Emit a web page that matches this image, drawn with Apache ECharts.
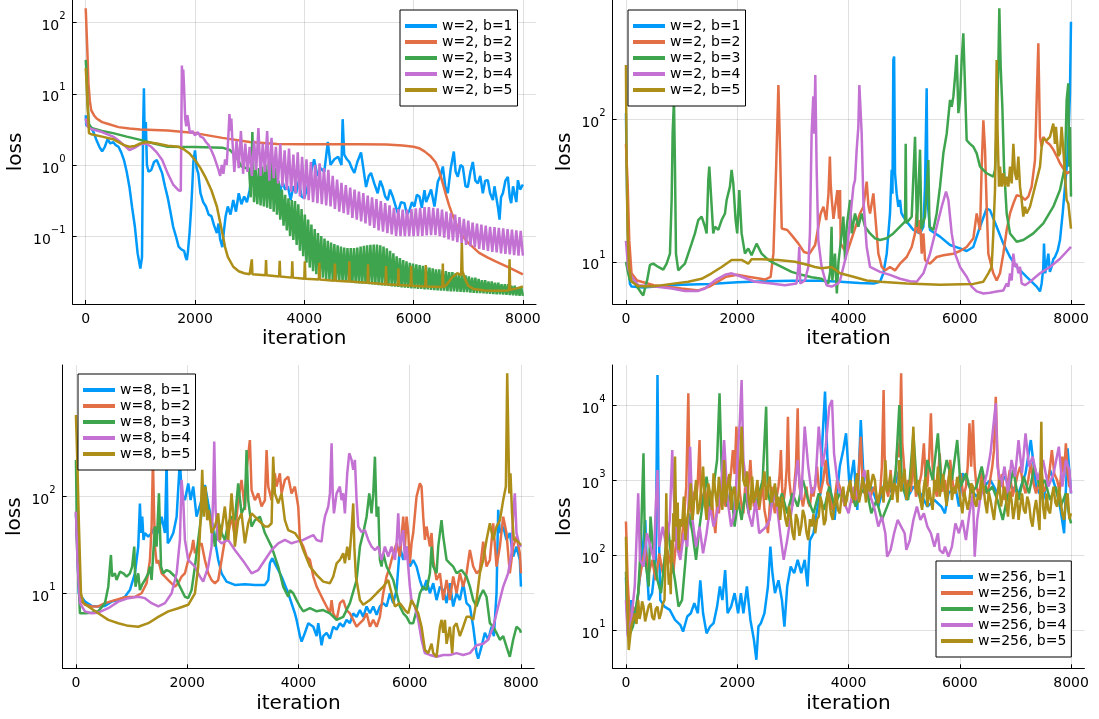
<!DOCTYPE html>
<html><head><meta charset="utf-8">
<script src="https://cdn.jsdelivr.net/npm/echarts@6/dist/echarts.min.js"></script>
<style>html,body{margin:0;padding:0;background:#fff}#c{width:1099px;height:719px}</style>
</head><body><div id="c"></div>
<script>
// ---------- tick labels ----------
const xTicks = [0, 2000, 4000, 6000, 8000];
const tlYTicks = [0.1, 1, 10, 100];
const trYTicks = [10, 100];
const blYTicks = [10, 100];
const brYTicks = [10, 100, 1000, 10000];

// ---------- legend names ----------
const namesW2 = ['w=2, b=1', 'w=2, b=2', 'w=2, b=3', 'w=2, b=4', 'w=2, b=5'];
const namesW8 = ['w=8, b=1', 'w=8, b=2', 'w=8, b=3', 'w=8, b=4', 'w=8, b=5'];
const namesW256 = ['w=256, b=1', 'w=256, b=2', 'w=256, b=3', 'w=256, b=4', 'w=256, b=5'];

// ---------- top-left panel (w=2) [iteration, loss] ----------
const tl_b1 = [[0,5.0],[10,3.6],[60,3.5],[100,3.4],[150,2.8],[200,2.2],[250,1.8],[300,1.55],[350,1.8],[400,2.3],[450,2.0],[500,2.1],[550,1.9],[600,1.8],[650,1.5],[700,1.17],[750,0.8],[800,0.49],[850,0.25],[900,0.135],[950,0.057],[1000,0.035],[1030,0.05],[1050,3.0],[1065,12],[1080,2.2],[1100,4.0],[1120,1.0],[1150,0.8],[1200,0.85],[1250,1.1],[1300,1.17],[1350,0.95],[1400,0.76],[1450,0.5],[1500,0.35],[1550,0.22],[1600,0.135],[1650,0.1],[1700,0.071],[1750,0.065],[1800,0.062],[1830,0.05],[1850,0.046],[1870,0.06],[1900,0.11],[1930,0.25],[1950,0.49],[1970,1.1],[2000,1.6],[2030,0.9],[2060,0.76],[2100,0.4],[2150,0.3],[2200,0.26],[2250,0.2],[2300,0.19],[2350,0.14],[2400,0.11],[2430,0.15],[2460,0.09],[2500,0.07],[2530,0.12],[2560,0.19],[2600,0.26],[2650,0.2],[2700,0.32],[2750,0.22],[2800,0.4],[2850,0.28],[2900,0.36],[2950,0.3],[3000,0.44],[3050,0.9],[3080,0.5],[3100,0.4],[3150,0.55],[3200,0.49],[3250,0.7],[3300,0.6],[3350,0.5],[3400,0.55],[3450,0.45],[3500,0.52],[3550,0.4],[3600,0.58],[3650,0.45],[3700,0.5],[3750,0.32],[3800,0.5],[3850,0.4],[3900,0.6],[3950,0.36],[4000,0.34],[4060,0.5],[4120,0.77],[4180,1.2],[4240,0.7],[4300,0.9],[4366,0.8],[4430,2.1],[4480,1.0],[4550,1.2],[4620,1.3],[4680,1.0],[4702,4.4],[4730,1.4],[4780,1.2],[4824,1.1],[4870,0.9],[4916,0.77],[4970,1.1],[5038,1.5],[5080,0.9],[5130,0.49],[5180,0.7],[5221,0.77],[5280,0.55],[5343,0.4],[5390,0.6],[5435,0.49],[5480,0.36],[5527,0.32],[5570,0.45],[5618,0.36],[5660,0.28],[5710,0.21],[5770,0.3],[5832,0.29],[5880,0.2],[5924,0.23],[5970,0.3],[6015,0.26],[6060,0.38],[6107,0.36],[6150,0.25],[6199,0.44],[6230,0.3],[6260,0.32],[6320,0.45],[6382,0.26],[6443,0.58],[6490,0.7],[6535,0.95],[6580,0.5],[6626,0.4],[6680,0.9],[6736,1.54],[6770,0.8],[6809,0.68],[6860,1.0],[6901,0.94],[6950,0.5],[6993,0.49],[7040,0.8],[7084,1.1],[7130,0.6],[7176,0.55],[7220,0.7],[7267,0.4],[7310,0.6],[7359,0.61],[7400,0.4],[7451,0.32],[7480,0.5],[7512,0.49],[7545,0.25],[7573,0.17],[7600,0.35],[7634,0.4],[7680,0.6],[7725,0.68],[7760,0.35],[7786,0.29],[7820,0.5],[7847,0.4],[7880,0.3],[7909,0.61],[7950,0.45],[8000,0.53]];
const tl_b2 = [[0,160],[30,40],[50,14],[75,8],[100,5.9],[150,5.0],[200,4.5],[300,4.0],[400,3.8],[600,3.4],[800,3.25],[1000,3.16],[1500,3.05],[2000,2.8],[2500,2.4],[3000,2.1],[3500,1.97],[4000,1.96],[4500,1.96],[5000,1.96],[5500,1.94],[5800,1.88],[6000,1.8],[6100,1.72],[6200,1.55],[6300,1.35],[6400,1.1],[6450,0.9],[6500,0.68],[6550,0.5],[6600,0.36],[6650,0.27],[6700,0.21],[6800,0.135],[6900,0.1],[7000,0.08],[7100,0.068],[7200,0.058],[7350,0.05],[7500,0.044],[7750,0.036],[8000,0.029]];
const tl_b3_head = [[0,30],[15,20],[30,8],[60,3.8],[100,3.3],[300,3.0],[500,2.8],[750,2.5],[1000,2.25],[1250,2.0],[1500,1.8],[2000,1.78],[2500,1.75],[2640,1.62],[2760,1.3],[2850,0.95],[2930,0.9]];
// oscillating band of b=3: upper and lower turning points, every 60 iterations from 2990
const tl_b3_hi = [0.9,2.9,0.85,0.9,0.95,1.0,1.1,1.25,0.9,0.6,0.45,0.38,0.34,0.32,0.31,0.28,0.24,0.2,0.17,0.145,0.125,0.11,0.1,0.092,0.086,0.081,0.077,0.074,0.071,0.069,0.068,0.068,0.068,0.069,0.071,0.073,0.074,0.075,0.076,0.076,0.074,0.071,0.067,0.062,0.057,0.052,0.049,0.046,0.044,0.042,0.041,0.04,0.039,0.038,0.037,0.036,0.035,0.034,0.034,0.033,0.032,0.031,0.031,0.03,0.029,0.028,0.028,0.027,0.026,0.026,0.025,0.024,0.024,0.023,0.023,0.022,0.022,0.021,0.021,0.021,0.02,0.02,0.019,0.019];
const tl_b3_lo = [0.35,0.3,0.28,0.27,0.26,0.25,0.24,0.22,0.2,0.17,0.14,0.12,0.1,0.088,0.075,0.062,0.052,0.042,0.036,0.032,0.029,0.027,0.026,0.025,0.0245,0.024,0.0237,0.0233,0.023,0.0227,0.0224,0.022,0.0218,0.0216,0.0214,0.0212,0.021,0.0208,0.0206,0.0204,0.0202,0.02,0.0198,0.0196,0.0194,0.0192,0.019,0.0188,0.0186,0.0184,0.0183,0.0181,0.018,0.0178,0.0177,0.0175,0.0174,0.0172,0.0171,0.017,0.0168,0.0167,0.0166,0.0165,0.0164,0.0163,0.0162,0.016,0.0159,0.0158,0.0157,0.0156,0.0155,0.0154,0.0153,0.0152,0.0151,0.015,0.0149,0.0148,0.0147,0.0146,0.0145,0.0144];
const tl_b4_head = [[0,4.5],[30,3.5],[100,3.2],[300,2.9],[500,2.5],[600,2.2],[700,1.9],[800,1.62],[900,1.75],[1000,1.95],[1100,2.0],[1200,1.8],[1300,1.5],[1400,1.17],[1500,0.76],[1600,0.53],[1700,0.44],[1740,0.43],[1760,25],[1775,10],[1785,22],[1800,12],[1820,4.5],[1840,3.5],[1860,5.0],[1880,4.0],[1900,3.0],[1920,2.8],[1950,3.0],[2000,2.6],[2050,2.9],[2100,2.5],[2150,2.4],[2200,2.1],[2250,1.9],[2300,1.6],[2350,1.3],[2400,1.0],[2430,0.85],[2460,0.7],[2490,1.0],[2520,0.75],[2550,1.2],[2580,1.0],[2610,2.5],[2630,5.2],[2650,3.0],[2665,4.5]];
// oscillating band of b=4: turning points every 80 iterations from 2680
const tl_b4_hi = [2.5,2.2,3.0,2.0,1.8,2.2,3.3,2.0,3.0,2.4,1.8,2.0,1.6,1.7,1.4,1.5,1.3,1.2,1.1,1.0,1.05,0.9,0.85,0.7,0.62,0.56,0.52,0.48,0.45,0.42,0.4,0.37,0.35,0.33,0.31,0.29,0.27,0.25,0.24,0.235,0.235,0.24,0.245,0.25,0.255,0.255,0.25,0.245,0.235,0.22,0.21,0.2,0.185,0.175,0.165,0.155,0.15,0.145,0.14,0.135,0.133,0.13,0.128,0.125,0.123,0.12,0.118];
const tl_b4_lo = [0.8,0.9,0.75,0.8,0.7,0.85,0.7,0.8,0.6,0.65,0.55,0.5,0.45,0.42,0.4,0.36,0.33,0.32,0.3,0.29,0.28,0.27,0.26,0.24,0.22,0.21,0.2,0.18,0.17,0.16,0.15,0.14,0.13,0.12,0.115,0.11,0.105,0.1,0.1,0.1,0.1,0.1,0.1,0.1,0.102,0.103,0.103,0.1,0.095,0.09,0.086,0.082,0.078,0.075,0.072,0.069,0.066,0.064,0.062,0.06,0.059,0.057,0.056,0.055,0.054,0.053,0.053];
const tl_b5 = [[0,23],[15,15],[30,8],[60,2.8],[100,2.7],[300,2.5],[500,2.3],[700,1.9],[800,1.8],[900,1.85],[1000,2.0],[1100,2.1],[1200,2.05],[1300,2.0],[1500,1.86],[1700,1.8],[1800,1.65],[1900,1.45],[2000,1.17],[2100,0.9],[2200,0.65],[2300,0.44],[2400,0.26],[2450,0.17],[2500,0.11],[2550,0.07],[2600,0.051],[2700,0.037],[2800,0.032],[2900,0.03],[3000,0.029],[3030,0.029],[3040,0.047],[3050,0.029],[3290,0.028],[3300,0.046],[3310,0.028],[3540,0.027],[3550,0.045],[3560,0.027],[3770,0.026],[3780,0.044],[3790,0.026],[4000,0.025],[4010,0.044],[4020,0.025],[4265,0.0245],[4275,0.042],[4285,0.0245],[4550,0.0235],[4560,0.041],[4570,0.0235],[4815,0.023],[4824,0.044],[4833,0.023],[5157,0.022],[5166,0.04],[5175,0.022],[5487,0.021],[5496,0.038],[5505,0.021],[5713,0.0205],[5722,0.035],[5731,0.0205],[5946,0.02],[5955,0.038],[5964,0.02],[6214,0.0195],[6223,0.039],[6232,0.0195],[6526,0.0192],[6535,0.041],[6544,0.0192],[6600,0.0205],[6700,0.026],[6800,0.03],[6870,0.028],[6883,0.08],[6895,0.032],[6950,0.024],[7000,0.02],[7100,0.018],[7300,0.0172],[7500,0.017],[7745,0.0172],[7756,0.047],[7767,0.0175],[7900,0.0185],[8000,0.0195]];

// ---------- top-right panel (w=2) ----------
const tr_b1 = [[0,110],[20,30],[50,9],[72,7.0],[100,6.7],[300,6.6],[600,6.75],[1000,6.9],[1500,7.0],[2000,7.2],[2500,7.3],[3000,7.35],[3500,7.35],[3850,7.25],[4200,7.1],[4450,7.05],[4567,7.25],[4627,8.3],[4687,11.4],[4746,21.8],[4776,44],[4790,30],[4806,259],[4820,274],[4836,41.7],[4866,30],[4896,24.3],[4926,27.1],[4950,22],[4986,20.7],[5046,19.1],[5166,16.7],[5286,15.8],[5346,17.6],[5375,33.6],[5405,164],[5420,27],[5465,16.7],[5645,15],[5825,13.1],[6004,12.4],[6124,11.9],[6244,12.7],[6364,17.6],[6483,23.6],[6543,23],[6663,17.6],[6783,13.4],[6903,10.8],[7023,9.2],[7202,7.85],[7382,6.7],[7442,6.2],[7472,7.05],[7500,9],[7514,13.4],[7535,8.3],[7560,9.5],[7592,11.4],[7620,8.5],[7650,9.2],[7680,10.4],[7711,10.8],[7760,12],[7801,14.2],[7850,22],[7891,33.6],[7930,50],[7951,71],[7980,150],[7999,481]];
const tr_b2 = [[0,67],[30,35],[60,14],[100,8.3],[200,7.4],[500,6.85],[1000,6.5],[1300,6.3],[1500,6.7],[1800,7.85],[2000,8.1],[2200,7.85],[2500,7.5],[2600,7.85],[2650,11.4],[2700,46.4],[2740,173],[2770,60],[2800,17.1],[2900,16.7],[3000,15],[3100,13.4],[3200,11.7],[3300,11.4],[3400,13.1],[3500,21.8],[3550,24.3],[3600,19.6],[3640,30],[3665,54.5],[3680,35],[3700,27.1],[3730,20],[3760,19.6],[3800,31.8],[3830,20],[3848,31.8],[3860,13.4],[3968,11.4],[4088,15.8],[4207,21.8],[4267,24.3],[4327,36.4],[4357,25],[4387,21.8],[4447,30.1],[4507,15.8],[4537,11.4],[4567,10.3],[4597,9.2],[4657,8.7],[4746,9.2],[4836,8.7],[4926,9.7],[5046,10.8],[5136,12.7],[5196,15.8],[5226,21.8],[5256,15.8],[5286,19.6],[5316,11.4],[5346,15.8],[5376,10.3],[5465,9.7],[5585,10.8],[5705,11.1],[5885,11.4],[6004,11.9],[6124,12.7],[6244,14.6],[6304,21.8],[6364,16.7],[6394,46.4],[6424,98],[6454,61],[6484,24.3],[6513,11.4],[6603,8.3],[6663,7.4],[6723,8.3],[6783,11.4],[6843,16.7],[6903,21.8],[6963,25.6],[7023,29.3],[7112,28.6],[7172,27.1],[7232,28.6],[7292,33.6],[7352,51.6],[7382,136],[7412,339],[7442,75],[7472,64],[7502,75],[7562,69],[7621,66],[7681,61],[7741,55],[7801,49],[7861,45],[7921,41.7],[7999,43]];
const tr_b3 = [[0,10],[40,8.3],[72,7.4],[162,7.05],[282,6.0],[311,5.8],[341,6.5],[380,7.4],[431,9.5],[491,9.7],[581,9.2],[671,8.8],[731,9.7],[791,11.4],[821,27.1],[839,79],[863,136],[881,46.4],[899,11.4],[940,8.7],[1000,9.2],[1060,9.7],[1120,11.4],[1180,13.4],[1240,15.8],[1300,19.6],[1360,20.7],[1420,17.6],[1450,15.8],[1480,37.4],[1498,46.4],[1527,30.1],[1569,15.8],[1600,17.6],[1660,16.7],[1720,19.6],[1780,21.8],[1810,27.1],[1869,33.6],[1899,44],[1929,35.4],[1971,19.6],[2000,15.8],[2037,31.8],[2079,15.8],[2139,11.4],[2198,12.4],[2258,11.1],[2348,13.4],[2438,11.4],[2558,10.3],[2678,9.7],[2798,9.2],[2977,8.5],[3157,8.1],[3336,7.8],[3516,7.6],[3636,7.05],[3670,8.5],[3696,17.6],[3710,7.4],[3756,11.4],[3790,6.0],[3820,10],[3848,10.3],[3878,15.8],[3908,20.7],[3938,10.3],[3968,17.6],[4028,27.1],[4058,15.8],[4117,21.8],[4177,17.6],[4237,21.8],[4297,17.6],[4387,15.8],[4477,14.6],[4567,14.2],[4687,14.6],[4806,15.8],[4926,17.6],[5016,19.1],[5028,67],[5040,18.6],[5136,20.7],[5196,75],[5230,17.6],[5286,61],[5310,17],[5375,20.7],[5435,51.6],[5455,17.6],[5525,16.7],[5585,21.8],[5645,33.6],[5705,57.5],[5765,79],[5825,136],[5855,122],[5885,144],[5915,198],[5945,281],[5975,110],[6004,136],[6034,259],[6064,398],[6094,169],[6124,71],[6184,67],[6244,64],[6304,57.5],[6364,46.4],[6483,41.7],[6603,39.5],[6633,44],[6663,88],[6693,233],[6711,597],[6735,233],[6765,122],[6795,46.4],[6843,21.8],[6903,15.8],[7023,13.8],[7142,14.2],[7322,15.8],[7502,18.6],[7681,24.3],[7801,31.8],[7891,46.4],[7921,136],[7951,178],[7966,46.4],[7981,88],[7999,28.6]];
const tr_b4 = [[0,14],[40,9],[102,7.85],[222,6.85],[521,6.7],[821,6.5],[1060,6.25],[1300,6.25],[1420,6.5],[1600,7.4],[1780,8.1],[1899,8.3],[2079,7.85],[2318,7.25],[2618,7.05],[2857,6.85],[3067,7.05],[3097,9.2],[3115,12.7],[3133,7.05],[3217,7.4],[3277,9.2],[3307,15.8],[3337,79],[3367,144],[3385,79],[3403,203],[3427,46.4],[3457,14.2],[3517,9.2],[3606,6.85],[3696,6.7],[3816,7.05],[3848,7.4],[3968,11.4],[4028,19.6],[4088,33.6],[4117,37.4],[4147,61],[4177,88],[4195,173],[4219,169],[4237,79],[4267,27.1],[4327,12.7],[4387,9.2],[4567,8.5],[4746,8.1],[4926,7.6],[5106,7.3],[5226,7.25],[5346,8.3],[5465,11.4],[5585,17.6],[5675,24.3],[5753,31],[5795,27.1],[5855,15.8],[5915,11.4],[6004,9.2],[6124,7.85],[6214,6.7],[6304,6.2],[6424,6.0],[6543,6.07],[6663,6.2],[6783,6.3],[6843,7.05],[6873,6.7],[6903,8.3],[6933,7.4],[6963,11.4],[6993,9.2],[7023,9.7],[7053,8.3],[7083,9.2],[7112,7.05],[7172,6.85],[7262,7.25],[7442,8.3],[7621,9.2],[7801,10.5],[7999,12.7]];
const tr_b5 = [[0,239],[12,46],[30,15.8],[54,9.2],[102,7.25],[222,6.75],[521,6.75],[821,7.0],[1120,7.25],[1360,7.6],[1540,8.3],[1720,9.2],[1899,10.3],[2079,10.3],[2198,9.7],[2258,10.4],[2438,10.4],[2737,10.3],[3037,10.0],[3277,9.5],[3397,9.2],[3516,9.0],[3696,9.2],[3848,8.3],[4088,7.85],[4327,7.4],[4567,7.25],[5046,7.05],[5645,6.9],[6244,7.0],[6424,7.25],[6513,8.3],[6573,9.2],[6603,15.8],[6633,31.8],[6663,259],[6680,79],[6705,33.6],[6723,46.4],[6753,33.6],[6783,41.7],[6813,33.6],[6843,39.5],[6873,33.6],[6903,46.4],[6933,35.4],[6963,67],[6993,41.7],[7023,37.4],[7053,54.5],[7083,33.6],[7112,27.1],[7142,20.7],[7172,24.3],[7202,21.8],[7262,24.3],[7322,30.1],[7382,37.4],[7442,46.4],[7472,64],[7502,73],[7562,71],[7621,75],[7681,93],[7710,67],[7729,88],[7770,55],[7801,57.5],[7830,88],[7861,61],[7921,27.1],[7951,25.6],[7999,17.1]];

// ---------- bottom-left panel (w=8) ----------
const bl_b1 = [[0,67],[30,25],[50,10],[162,8.2],[282,7.4],[401,7.3],[521,7.4],[641,8.2],[761,8.5],[881,9.2],[970,10.8],[1060,16.1],[1120,30.4],[1150,85],[1170,42],[1192,62],[1215,35.6],[1240,42],[1300,38.6],[1360,42],[1420,49],[1480,42],[1540,62],[1600,42],[1630,240],[1650,32.9],[1690,35.6],[1750,42],[1810,62],[1869,240],[1899,108],[1959,92],[2019,137],[2061,92],[2109,127],[2168,62],[2258,92],[2318,132],[2378,85],[2438,57],[2498,35.6],[2558,22.1],[2618,16.1],[2707,13.2],[2857,12.2],[3037,12.4],[3217,12.2],[3397,12.2],[3457,13.7],[3486,20.4],[3529,23],[3576,20.4],[3696,14.9],[3816,10],[3936,6.2],[3967,5.3],[4027,3.6],[4057,3.16],[4117,3.9],[4177,4.9],[4207,4.7],[4267,4.5],[4327,3.6],[4356,4.9],[4416,2.9],[4446,3.6],[4506,3.9],[4566,3.4],[4626,4.5],[4686,4.2],[4745,4.9],[4805,4.5],[4865,5.3],[4925,4.9],[4985,6.2],[5045,5.7],[5105,6.7],[5165,5.7],[5225,7.3],[5285,6.2],[5345,7.3],[5405,6.0],[5464,7.3],[5524,7.9],[5584,7.3],[5644,10],[5704,7.9],[5764,10.8],[5824,30.4],[5884,22.1],[5944,30.4],[6003,18.9],[6063,22.1],[6123,18.9],[6183,13.7],[6243,10.8],[6303,13.7],[6363,10],[6423,12.7],[6483,8.5],[6543,11.7],[6603,10.8],[6663,7.9],[6722,12.7],[6782,7.3],[6842,10],[6902,8.5],[6962,12.7],[7022,7.9],[7082,7.3],[7142,4.5],[7202,2.4],[7231,2.1],[7291,2.8],[7351,3.9],[7411,3.3],[7471,4.5],[7513,3.6],[7561,10],[7591,73],[7621,42],[7681,49],[7740,35.6],[7800,42],[7860,24],[7920,30.4],[7980,22.1],[8000,11.7]];
const bl_b2 = [[0,70],[30,25],[72,8.5],[162,7.6],[282,7.3],[401,7.3],[521,7.9],[701,8.5],[881,9.1],[1060,9.2],[1180,10],[1270,12.7],[1330,22.1],[1360,49],[1384,240],[1402,79],[1420,30.4],[1450,20.4],[1480,22.1],[1540,16.1],[1600,14.9],[1660,13.7],[1780,11.7],[1839,12.7],[1899,14.9],[1959,16.1],[2019,22.1],[2079,28],[2109,35.6],[2139,25.9],[2198,30.4],[2258,32.9],[2318,22.1],[2378,16.1],[2438,13.7],[2498,12.7],[2558,13.7],[2618,22.1],[2677,35.6],[2737,42],[2797,62],[2857,38.6],[2917,92],[2977,149],[3037,73],[3067,189],[3127,385],[3157,117],[3217,92],[3277,108],[3337,79],[3397,92],[3427,304],[3457,127],[3517,92],[3576,174],[3606,127],[3666,174],[3696,108],[3756,149],[3816,161],[3876,108],[3936,127],[3996,79],[4027,35.6],[4087,30.4],[4147,24],[4207,22.1],[4267,14.9],[4327,11.7],[4386,10],[4446,8.5],[4506,7.3],[4566,6.2],[4596,8.5],[4626,6.2],[4686,5.3],[4745,7.9],[4805,8.5],[4865,6.7],[4925,6.2],[4985,5.3],[5045,4.5],[5105,4.9],[5165,5.3],[5225,6.2],[5285,4.5],[5345,5.3],[5405,4.5],[5464,5.7],[5524,10],[5584,14.9],[5644,18.9],[5704,25.9],[5764,32.9],[5824,24],[5884,62],[5914,30.4],[5944,62],[5974,42],[6003,20.4],[6033,32.9],[6063,42],[6123,100],[6183,137],[6213,127],[6243,62],[6273,35.6],[6303,49],[6363,30.4],[6393,42],[6423,22.1],[6483,13.7],[6543,16.1],[6603,8.5],[6663,13.7],[6722,8.5],[6782,14.9],[6842,10],[6902,16.1],[6962,11.7],[7022,16.1],[7082,28],[7142,18.9],[7202,16.1],[7261,17.4],[7321,34.2],[7381,18.9],[7441,22.1],[7501,53],[7561,18.9],[7621,30.4],[7681,62],[7740,42],[7800,16.1],[7860,30.4],[7920,38.6],[7980,25.9],[8000,16.1]];
const bl_b3 = [[0,240],[20,30],[72,6.2],[162,6.2],[282,6.3],[401,6.5],[521,7.9],[581,11.7],[611,18.9],[629,24.9],[650,14.9],[701,16.1],[730,13.7],[791,16.7],[851,16.1],[911,14.9],[970,16.1],[1010,18.9],[1048,30.4],[1070,11.7],[1120,16.1],[1150,10.8],[1192,12.4],[1240,13.7],[1300,16.1],[1330,18.9],[1360,13.7],[1420,49],[1450,30.4],[1492,108],[1530,18.9],[1569,16.1],[1630,17.4],[1690,16.7],[1780,14.9],[1869,11.7],[1959,9.2],[2019,8.9],[2079,10.8],[2139,18.9],[2198,35.6],[2258,67],[2318,127],[2378,67],[2438,57],[2498,30.4],[2558,57],[2618,42],[2677,35.6],[2737,53],[2797,62],[2857,57],[2917,137],[2977,67],[3037,79],[3067,304],[3097,92],[3157,49],[3217,57],[3307,62],[3397,42],[3517,30.4],[3636,18.9],[3726,11.7],[3816,9.2],[3847,10.8],[3906,10],[3967,8.5],[4027,7.3],[4087,6.5],[4207,7.0],[4327,6.5],[4446,6.7],[4566,6.2],[4686,5.3],[4805,5.7],[4925,7.9],[5045,13.7],[5105,30.4],[5165,42],[5225,62],[5273,108],[5314,67],[5345,108],[5375,259],[5405,62],[5435,79],[5464,22.1],[5494,18.9],[5524,25.9],[5584,18.9],[5644,16.1],[5704,13.7],[5764,10],[5824,7.3],[5884,6.2],[5944,5.7],[6003,4.9],[6063,4.9],[6123,6.7],[6183,10],[6243,11.7],[6303,10.8],[6363,16.1],[6393,30.4],[6423,18.9],[6483,16.1],[6513,30.4],[6572,57],[6603,38.6],[6663,22.1],[6722,20.4],[6782,18.9],[6842,16.1],[6932,17.4],[7022,14.9],[7082,11.7],[7142,8.5],[7202,7.3],[7261,9.2],[7321,10.8],[7381,9.2],[7441,4.9],[7501,4.5],[7561,3.9],[7621,3.3],[7681,3.6],[7740,2.8],[7800,2.2],[7860,3.3],[7920,4.5],[7980,4.2],[8000,3.9]];
const bl_b4 = [[0,70],[30,20],[72,7.9],[162,6.5],[282,6.2],[401,6.3],[581,7.0],[761,8.2],[940,8.9],[1120,9.2],[1240,8.9],[1360,7.9],[1480,7.3],[1600,7.9],[1720,10],[1810,16.1],[1869,35.6],[1899,149],[1929,92],[1959,35.6],[2019,22.1],[2139,18.9],[2228,14.9],[2288,13.2],[2378,18.9],[2438,30.4],[2468,108],[2486,371],[2510,73],[2558,35.6],[2618,32.9],[2737,35.6],[2857,28],[3037,20.4],[3157,16.1],[3277,17.4],[3397,22.1],[3517,28],[3636,32.9],[3756,35.6],[3876,32.9],[3967,34.2],[4087,35.6],[4207,38.6],[4267,40],[4327,35.6],[4416,34.2],[4446,49],[4476,62],[4536,79],[4566,108],[4596,356],[4616,108],[4638,67],[4686,108],[4745,127],[4775,92],[4805,108],[4835,67],[4877,174],[4913,281],[4955,240],[4985,189],[5015,240],[5045,92],[5075,49],[5135,43],[5195,45],[5255,35.6],[5315,30.4],[5375,28],[5434,30.4],[5494,22.1],[5554,30.4],[5614,24],[5674,30.4],[5734,22.1],[5764,32.9],[5794,67],[5824,30.4],[5884,45],[5914,22.1],[5944,30.4],[6003,11.7],[6033,8.5],[6093,7.3],[6153,5.3],[6213,3.3],[6273,2.4],[6363,2.3],[6483,2.2],[6603,2.3],[6722,2.3],[6842,2.4],[6962,2.3],[7082,2.4],[7202,2.9],[7321,3.0],[7411,3.3],[7501,4.5],[7591,7.3],[7681,11.7],[7770,16.1],[7830,25.9],[7860,67],[7890,108],[7920,42],[7980,30.4],[8000,32]];
const bl_b5 = [[0,700],[10,452],[30,174],[54,49],[90,10],[132,8.0],[222,7.3],[401,6.2],[581,5.3],[761,4.9],[940,4.6],[1120,4.5],[1300,4.9],[1480,5.7],[1660,6.5],[1839,7.0],[2019,7.6],[2139,10],[2198,18.9],[2240,57],[2270,189],[2300,62],[2330,127],[2360,57],[2390,73],[2438,42],[2498,49],[2558,67],[2588,35.6],[2618,45],[2677,79],[2737,35.6],[2797,108],[2827,67],[2857,30.4],[2917,57],[2977,67],[3037,32.9],[3097,53],[3157,67],[3217,62],[3277,57],[3337,53],[3397,49],[3457,49],[3517,53],[3546,259],[3576,108],[3636,85],[3696,108],[3756,57],[3816,45],[3936,42],[4025,35.6],[4087,28],[4207,18.9],[4327,15.5],[4446,13.2],[4566,12.7],[4626,14.9],[4686,20.4],[4745,22.1],[4805,25.9],[4835,20.4],[4877,30.4],[4913,22.1],[4955,45],[4985,85],[5005,30],[5033,14.9],[5105,8.5],[5165,7.6],[5285,8.5],[5405,10],[5524,11.7],[5614,13.7],[5674,10],[5734,7.3],[5824,7.9],[5914,6.7],[5974,6.2],[6033,8.5],[6093,7.3],[6153,6.2],[6213,4.5],[6273,2.6],[6333,2.4],[6393,3.0],[6423,2.4],[6483,2.2],[6543,4.5],[6573,5.3],[6603,3.9],[6633,5.3],[6663,3.0],[6722,4.5],[6764,2.4],[6794,4.5],[6842,4.9],[6902,3.6],[6962,4.5],[7022,5.7],[7082,5.7],[7142,5.3],[7202,8.5],[7261,16.1],[7321,22.1],[7381,35.6],[7441,53],[7501,35.6],[7561,49],[7621,57],[7681,92],[7729,127],[7753,1890],[7770,530],[7790,108],[7812,174],[7840,67],[7872,35.6],[7920,35.6],[8000,31.6]];

// ---------- bottom-right panel (w=256) ----------
const br_b1 = [[0,50],[32,9.0],[95,25],[158,12.3],[220,31],[284,86],[347,293],[380,60],[410,25],[470,31],[504,31],[535,86],[567,25100],[590,239],[617,25],[693,20.5],[787,18.5],[882,13.6],[976,11.7],[1027,9.5],[1102,15.1],[1166,16.7],[1229,22.7],[1292,16.7],[1336,46],[1386,16.7],[1449,9.0],[1512,11.1],[1575,12.3],[1638,20.5],[1688,38],[1733,25],[1783,63],[1827,16.7],[1890,20.5],[1953,31],[2016,16.7],[2066,31],[2111,16.7],[2174,38],[2237,13.6],[2300,7.4],[2344,4.0],[2381,11.1],[2426,12.3],[2489,16.7],[2552,38],[2596,129],[2633,57],[2678,31],[2741,46],[2804,25],[2848,11.1],[2898,38],[2961,70],[3024,57],[3087,86],[3150,57],[3213,86],[3263,38],[3307,158],[3371,195],[3434,398],[3497,664],[3528,3080],[3578,15060],[3622,1850],[3685,664],[3749,293],[3843,1510],[3906,2510],[3956,4190],[4019,815],[4095,1850],[4158,398],[4221,6310],[4284,664],[4410,815],[4536,441],[4662,1000],[4788,664],[4914,1360],[5040,541],[5166,815],[5292,664],[5418,441],[5544,541],[5670,441],[5733,359],[5796,664],[5922,815],[5985,441],[6048,1230],[6174,815],[6300,600],[6426,815],[6552,1000],[6678,664],[6804,1110],[6930,815],[7056,664],[7182,1230],[7277,3410],[7371,815],[7497,541],[7623,1360],[7749,664],[7812,398],[7875,195],[7938,2640],[8000,664]];
const br_b2 = [[0,280],[30,46],[76,11.1],[126,20.5],[189,16.7],[240,46],[284,70],[347,129],[410,57],[473,86],[535,46],[599,105],[662,57],[725,129],[788,86],[851,57],[914,195],[977,105],[1040,293],[1084,815],[1121,14300],[1146,664],[1170,400],[1197,293],[1230,700],[1260,541],[1290,900],[1323,3410],[1340,900],[1360,398],[1390,600],[1418,815],[1450,500],[1481,293],[1512,700],[1544,541],[1575,300],[1607,195],[1640,500],[1670,359],[1700,600],[1733,815],[1765,500],[1796,441],[1828,1100],[1859,815],[1890,1300],[1922,2510],[1953,1200],[1985,5140],[2016,1500],[2048,664],[2080,450],[2111,359],[2142,800],[2174,541],[2205,900],[2237,1850],[2268,700],[2300,441],[2331,600],[2363,815],[2395,400],[2426,600],[2458,900],[2489,398],[2520,300],[2552,195],[2584,450],[2615,815],[2646,500],[2678,359],[2710,600],[2741,815],[2763,1200],[2785,2510],[2804,900],[2822,441],[2845,600],[2867,815],[2890,1500],[2911,6990],[2935,1000],[2961,664],[2992,450],[3024,815],[3055,1500],[3087,9030],[3105,1500],[3120,815],[3150,600],[3181,441],[3212,600],[3244,815],[3275,500],[3307,441],[3340,800],[3371,600],[3402,900],[3434,1510],[3465,800],[3497,664],[3545,1000],[3591,1850],[3622,900],[3654,815],[3700,400],[3749,541],[3796,1000],[3843,815],[3890,600],[3938,441],[3985,700],[4032,815],[4080,500],[4127,541],[4175,1000],[4221,3780],[4250,1000],[4284,664],[4330,900],[4379,541],[4425,700],[4473,815],[4520,500],[4568,664],[4600,1500],[4631,15800],[4650,2000],[4670,815],[4715,600],[4757,1360],[4790,600],[4820,815],[4850,1300],[4883,3080],[4915,2000],[4946,26400],[4968,3000],[4990,1850],[5030,700],[5072,1000],[5120,700],[5166,1850],[5213,600],[5261,815],[5310,1200],[5355,3080],[5386,1000],[5418,815],[5450,2000],[5481,7740],[5512,1500],[5544,815],[5590,600],[5638,2270],[5685,700],[5733,1000],[5780,600],[5827,1850],[5875,900],[5922,664],[5970,1000],[6016,1230],[6064,600],[6111,815],[6142,1500],[6174,5690],[6205,1500],[6237,6310],[6268,1500],[6300,815],[6347,600],[6394,1230],[6440,800],[6489,664],[6536,900],[6584,1510],[6615,2500],[6647,12900],[6678,2000],[6710,815],[6757,1200],[6804,541],[6850,800],[6899,1360],[6946,600],[6993,815],[7040,1200],[7087,1510],[7135,900],[7182,664],[7230,1000],[7277,1670],[7325,900],[7371,664],[7420,900],[7466,1360],[7513,700],[7560,815],[7608,1200],[7655,2510],[7700,1200],[7749,1000],[7796,700],[7844,2050],[7875,1200],[7907,3080],[7940,1200],[7970,815],[8000,815]];
const br_b3 = [[0,60],[30,13.6],[76,9.0],[126,11.1],[220,31],[265,129],[315,2270],[345,86],[410,38],[441,325],[504,86],[567,46],[630,31],[693,86],[756,239],[819,86],[882,46],[945,20.5],[1008,25],[1071,86],[1134,359],[1197,195],[1260,86],[1323,239],[1386,541],[1449,1110],[1512,441],[1575,815],[1638,1850],[1682,14300],[1720,1360],[1764,815],[1827,441],[1890,815],[1953,239],[2016,541],[2079,293],[2142,664],[2205,359],[2268,815],[2331,441],[2394,664],[2457,1000],[2520,9500],[2550,664],[2615,441],[2678,815],[2741,441],[2804,664],[2898,359],[2993,664],[3087,441],[3181,1000],[3276,541],[3371,359],[3465,664],[3560,398],[3654,815],[3749,441],[3843,664],[3938,541],[4032,815],[4127,441],[4221,664],[4316,815],[4410,359],[4505,541],[4599,293],[4694,441],[4788,664],[4851,1360],[4914,10000],[4960,815],[5072,541],[5166,4190],[5229,815],[5324,441],[5418,1850],[5513,1000],[5607,4190],[5670,815],[5765,1850],[5859,1000],[5954,3410],[6016,815],[6111,1230],[6206,664],[6300,815],[6394,1510],[6489,664],[6584,815],[6678,541],[6773,293],[6867,664],[6962,1360],[7056,541],[7150,1110],[7245,664],[7340,1510],[7434,815],[7529,1000],[7623,541],[7718,815],[7812,441],[7907,664],[7970,325],[8000,264]];
const br_b4 = [[0,25],[32,8.2],[95,13.6],[158,38],[220,664],[252,86],[315,70],[378,195],[441,129],[504,86],[535,441],[567,1360],[599,129],[662,239],[725,129],[788,293],[832,2510],[858,664],[914,129],[977,86],[1040,195],[1103,129],[1153,2780],[1197,293],[1260,129],[1323,239],[1386,105],[1449,195],[1512,441],[1575,239],[1638,359],[1701,664],[1764,3410],[1827,541],[1890,239],[1953,359],[2003,1850],[2048,6310],[2079,21500],[2110,1850],[2155,1000],[2205,359],[2268,239],[2331,541],[2394,195],[2457,215],[2520,239],[2583,293],[2646,664],[2709,489],[2772,195],[2835,86],[2898,158],[2961,325],[3024,664],[3087,1850],[3150,541],[3213,5140],[3276,1510],[3339,664],[3402,815],[3465,5140],[3528,1510],[3591,2780],[3654,9500],[3704,11660],[3740,2270],[3812,815],[3906,541],[4001,359],[4095,815],[4190,541],[4284,1360],[4379,664],[4473,398],[4536,239],[4599,325],[4662,195],[4694,95],[4757,117],[4820,195],[4883,293],[4946,239],[5009,195],[5040,117],[5103,158],[5166,293],[5229,441],[5292,293],[5355,359],[5418,239],[5481,195],[5544,129],[5607,195],[5638,117],[5701,105],[5733,129],[5796,95],[5859,129],[5922,264],[5985,195],[6048,293],[6111,158],[6174,359],[6237,664],[6268,95],[6313,293],[6363,541],[6426,815],[6489,1230],[6552,2270],[6615,6310],[6647,10520],[6678,1510],[6741,815],[6804,1510],[6867,664],[6930,1850],[6993,1110],[7056,3410],[7119,1230],[7182,4190],[7245,1510],[7308,2050],[7403,1000],[7497,1850],[7592,815],[7686,1230],[7781,2780],[7844,815],[7907,1850],[7970,1360],[8000,664]];
const br_b5 = [[0,175],[20,25],[50,5.4],[95,11.1],[158,16.7],[190,12],[220,25],[245,14],[265,16.7],[290,24],[315,20.5],[345,13],[378,16.7],[410,21],[441,22.7],[470,15],[504,13.6],[535,19],[567,20.5],[600,14],[630,16.7],[660,22],[693,25],[710,90],[725,664],[740,120],[756,70],[770,40],[788,57],[805,30],[819,158],[835,80],[851,359],[866,150],[882,2050],[898,400],[914,239],[930,500],[945,117],[975,300],[1008,239],[1040,600],[1071,158],[1100,300],[1134,441],[1165,900],[1197,293],[1230,600],[1260,1000],[1290,350],[1323,441],[1355,800],[1386,1510],[1418,500],[1449,293],[1480,900],[1512,664],[1545,400],[1575,1230],[1605,700],[1638,441],[1670,1100],[1701,664],[1733,400],[1764,1850],[1795,500],[1827,815],[1860,1200],[1890,398],[1920,700],[1953,815],[1985,400],[2016,541],[2048,1300],[2079,5140],[2110,1000],[2142,815],[2175,1300],[2205,541],[2236,400],[2268,1110],[2300,500],[2331,664],[2363,1000],[2394,441],[2425,700],[2457,815],[2490,1300],[2520,541],[2550,800],[2583,1110],[2615,500],[2646,664],[2678,900],[2709,441],[2740,600],[2772,293],[2805,600],[2835,441],[2866,300],[2898,239],[2930,450],[2961,325],[2992,200],[3024,158],[3055,350],[3087,293],[3118,180],[3150,239],[3180,400],[3213,325],[3245,200],[3276,158],[3308,300],[3339,239],[3370,350],[3402,195],[3435,300],[3465,325],[3497,600],[3528,441],[3560,250],[3591,293],[3622,700],[3654,541],[3685,350],[3717,293],[3750,500],[3780,664],[3811,400],[3843,359],[3875,600],[3906,815],[3938,450],[3969,541],[4000,800],[4032,1000],[4063,600],[4095,541],[4127,900],[4158,1230],[4190,500],[4221,664],[4252,1100],[4284,815],[4315,500],[4347,1360],[4380,700],[4410,664],[4440,1200],[4473,1000],[4505,600],[4536,489],[4568,700],[4599,815],[4630,500],[4662,1850],[4694,700],[4725,815],[4756,1200],[4788,541],[4820,900],[4851,815],[4882,500],[4914,1850],[4945,700],[4977,1000],[5008,1400],[5040,541],[5072,900],[5103,815],[5135,1500],[5166,5140],[5197,900],[5229,664],[5260,1000],[5292,541],[5323,400],[5355,815],[5386,1100],[5418,441],[5450,800],[5481,541],[5512,400],[5544,1000],[5575,700],[5607,1510],[5638,600],[5670,815],[5700,1200],[5733,664],[5765,450],[5796,1000],[5827,1400],[5859,541],[5890,800],[5922,664],[5953,1100],[5985,815],[6016,500],[6048,359],[6080,700],[6111,664],[6142,400],[6174,541],[6205,900],[6237,815],[6268,500],[6300,441],[6331,700],[6363,541],[6394,1000],[6426,815],[6457,500],[6489,359],[6520,700],[6552,541],[6583,400],[6615,293],[6646,500],[6678,664],[6710,1000],[6741,441],[6772,600],[6804,815],[6835,500],[6867,325],[6898,700],[6930,541],[6961,300],[6993,441],[7024,700],[7056,293],[7087,450],[7119,664],[7150,400],[7182,359],[7213,600],[7245,489],[7276,300],[7308,239],[7340,400],[7371,541],[7402,350],[7434,215],[7450,1200],[7466,5990],[7480,900],[7497,441],[7528,300],[7560,664],[7591,400],[7623,359],[7655,600],[7686,815],[7717,500],[7749,441],[7780,800],[7812,541],[7843,350],[7875,293],[7906,500],[7938,664],[7970,300],[8000,359]];

// ---------- build ----------
const colors = ['#009AFA', '#E36F47', '#3EA44E', '#C371D2', '#AC8E18'];
const FONT = 'DejaVu Sans';

function band(start, step, hi, lo) {
  const out = [];
  for (let i = 0; i < hi.length; i++) {
    out.push([start + i * step, hi[i]]);
    out.push([start + i * step + step / 2, lo[i]]);
  }
  return out;
}
const tl_b3 = tl_b3_head.concat(band(2990, 60, tl_b3_hi, tl_b3_lo));
const tl_b4 = tl_b4_head.concat(band(2680, 80, tl_b4_hi, tl_b4_lo));

const grids = [
  {left: 72.6, top: 0, width: 463.4, height: 304},
  {left: 612.6, top: 0, width: 471.8, height: 304},
  {left: 62.6, top: 365, width: 471.7, height: 303.3},
  {left: 612.6, top: 365, width: 471.8, height: 303.3}
].map(g => Object.assign({outerBoundsMode: 'none', containLabel: false}, g));

const gridLine = {show: true, lineStyle: {color: 'rgba(0,0,0,0.12)', width: 1}};
function xAx(gi) {
  return {
    gridIndex: gi, type: 'value', min: -240, max: 8240,
    axisLine: {show: true, onZero: false, lineStyle: {color: '#000', width: 1}},
    axisTick: {show: true, inside: true, length: 4, customValues: xTicks, lineStyle: {color: '#000'}},
    axisLabel: {customValues: xTicks, fontFamily: FONT, fontSize: 14, color: '#000', margin: 8, formatter: v => String(v)},
    splitLine: gridLine, minorTick: {show: false},
    name: 'iteration', nameLocation: 'middle', nameGap: 25,
    nameTextStyle: {fontFamily: FONT, fontSize: 20, color: '#000'}
  };
}
function yAx(gi, min, max, ticks, gap) {
  return {
    gridIndex: gi, type: 'log', logBase: 10, min: min, max: max,
    axisLine: {show: true, onZero: false, lineStyle: {color: '#000', width: 1}},
    axisTick: {show: true, inside: true, length: 4, customValues: ticks, lineStyle: {color: '#000'}},
    axisLabel: {
      customValues: ticks, margin: 7,
      formatter: v => '{b|10}{s|' + String(Math.round(Math.log10(v))).replace('-', '\u2212') + '}',
      rich: {
        b: {fontFamily: FONT, fontSize: 14, color: '#000', lineHeight: 22, verticalAlign: 'bottom'},
        s: {fontFamily: FONT, fontSize: 10, color: '#000', lineHeight: 12, verticalAlign: 'top'}
      }
    },
    splitLine: gridLine, minorTick: {show: false}, minorSplitLine: {show: false},
    name: 'loss', nameLocation: 'middle', nameGap: gap, nameRotate: 90,
    nameTextStyle: {fontFamily: FONT, fontSize: 20, color: '#000'}
  };
}
function legend(names, left, top) {
  return {
    data: names, orient: 'vertical', left: left, top: top, icon: 'rect',
    itemWidth: 32, itemHeight: 4, itemGap: 0, padding: [8, 5, 8, 5],
    borderColor: '#000', borderWidth: 1, borderRadius: 0, backgroundColor: '#fff',
    selectedMode: false,
    textStyle: {fontFamily: FONT, fontSize: 14, color: '#000', lineHeight: 16}
  };
}
function mk(data, gi, ci, name) {
  return {
    type: 'line', name: name, data: data, xAxisIndex: gi, yAxisIndex: gi,
    showSymbol: false, symbol: 'none', clip: true, silent: true,
    lineStyle: {width: 2.5, color: colors[ci]}, itemStyle: {color: colors[ci]},
    emphasis: {disabled: true}
  };
}

const panels = [
  [tl_b1, tl_b2, tl_b3, tl_b4, tl_b5],
  [tr_b1, tr_b2, tr_b3, tr_b4, tr_b5],
  [bl_b1, bl_b2, bl_b3, bl_b4, bl_b5],
  [br_b1, br_b2, br_b3, br_b4, br_b5]
];
const panelNames = [namesW2, namesW2, namesW8, namesW256];
const series = [];
panels.forEach((p, gi) => p.forEach((d, ci) => series.push(mk(d, gi, ci, panelNames[gi][ci]))));

const option = {
  backgroundColor: '#fff',
  animation: false,
  textStyle: {fontFamily: FONT},
  grid: grids,
  xAxis: [xAx(0), xAx(1), xAx(2), xAx(3)],
  yAxis: [
    yAx(0, 0.01107, 208.5, tlYTicks, 47),
    yAx(1, 5.06, 682, trYTicks, 38),
    yAx(2, 1.673, 2301, blYTicks, 38),
    yAx(3, 3.08, 34150, brYTicks, 38)
  ],
  legend: [
    legend(namesW2, 400, 10),
    legend(namesW2, 628, 10),
    legend(namesW8, 78, 374),
    legend(namesW256, 936, 561)
  ],
  series: series
};
const chart = echarts.init(document.getElementById('c'), null, {renderer: 'canvas'});
chart.setOption(option);
</script>
</body></html>
